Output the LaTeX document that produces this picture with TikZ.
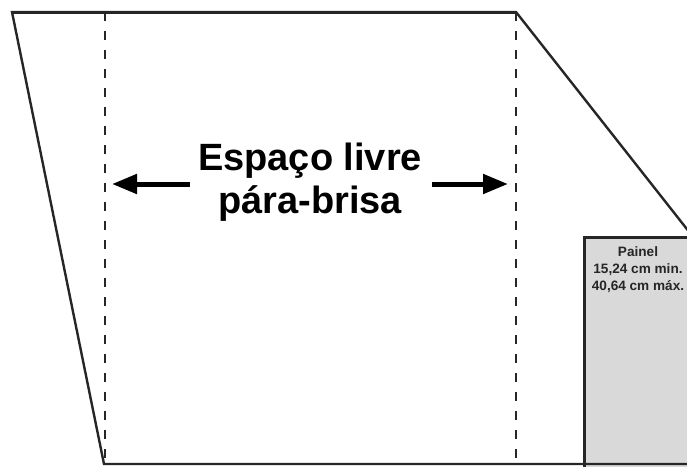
\documentclass[tikz,border=0pt]{standalone}
\usepackage{fontspec}
\setmainfont{Liberation Sans}
\usetikzlibrary{arrows.meta}
\begin{document}
\begin{tikzpicture}[x=1pt,y=-1pt,
  outline/.style={line width=2.4pt,draw=black!85},
  guide/.style={line width=2.2pt,draw=black!85,dash pattern=on 9pt off 10pt},
  bigarrow/.style={line width=5pt,-{Triangle[length=25pt,width=19pt]}},
  paneltext/.style={font=\bfseries\fontsize{13.6}{17}\selectfont,align=center,text=black!85,inner sep=0pt},
  maintext/.style={font=\bfseries\fontsize{38}{43}\selectfont,align=center,inner sep=0pt}]
\useasboundingbox (0,0) rectangle (687,466);
% panel
\fill[black!15] (584,237) rectangle (690,470);
\draw[line width=3pt,draw=black!85] (584,470) -- (584,237) -- (690,237);
% outline
\coordinate (tl) at (12,12);
\coordinate (tr) at (516,12);
\coordinate (bl) at (104,464);
\coordinate (br) at (690,464);
\coordinate (re) at (690,233);
\draw[outline] (re) -- (tr) -- (tl) -- (bl) -- (br);
\draw[line width=3pt,draw=black!85] (tl) -- (tr);
% guides
\coordinate (g1t) at (105,12);
\coordinate (g1b) at (105,464);
\coordinate (g2t) at (516,12);
\coordinate (g2b) at (516,464);
\draw[guide] (g1t) -- (g1b);
\draw[guide] (g2t) -- (g2b);
% text
\node[maintext] (label) at (310,182) {Espaço livre\\pára-brisa};
\coordinate (la) at (190,184);
\coordinate (lt) at (112,184);
\coordinate (ra) at (432,184);
\coordinate (rt) at (508,184);
\draw[bigarrow] (la) -- (lt);
\draw[bigarrow] (ra) -- (rt);
\node[paneltext] (panel) at (638,270) {Painel\\15,24 cm min.\\40,64 cm máx.};
\end{tikzpicture}
\end{document}
